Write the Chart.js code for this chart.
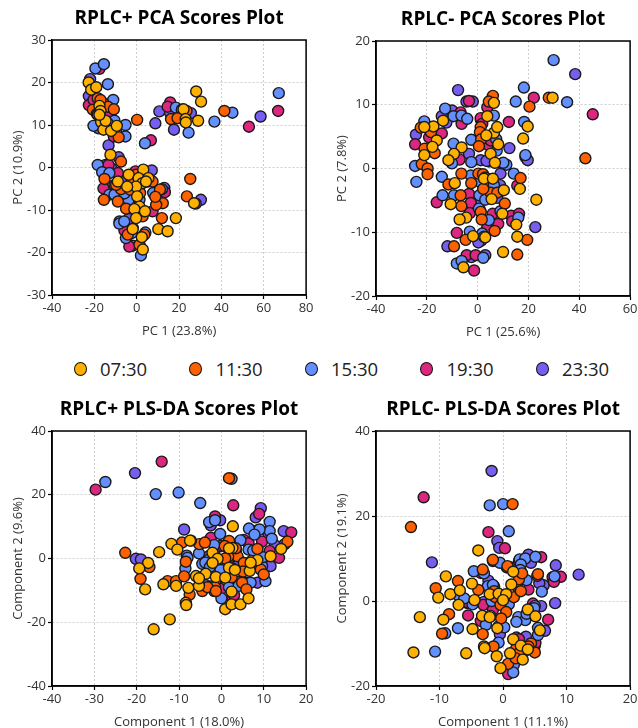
<!DOCTYPE html>
<html>
<head>
<meta charset="utf-8">
<script src="https://cdn.jsdelivr.net/npm/chart.js@4.4.0/dist/chart.umd.min.js"></script>
<style>
html, body { margin: 0; padding: 0; background: #fff; width: 638px; height: 728px; overflow: hidden; position: relative; font-family: "Open Sans", sans-serif; }
canvas { position: absolute; }
#legend { position: absolute; left: 73.5px; top: 357px; height: 24px; display: flex; align-items: center; }
#legend .item { width: 115.5px; display: flex; align-items: center; }
#legend .dot { width: 13px; height: 14px; border: 1.6px solid #111; border-radius: 50%; box-sizing: border-box; margin-right: 13.5px; }
#legend .lbl { font-size: 18.5px; color: #222; line-height: 24px; }
</style>
</head>
<body>
<canvas id="pcaPos"></canvas>
<canvas id="pcaNeg"></canvas>
<canvas id="plsPos"></canvas>
<canvas id="plsNeg"></canvas>
<div id="legend"></div>
<script>
// groups (sampling times) and their colours
const timePoints = ['07:30', '11:30', '15:30', '19:30', '23:30'];
const groupColors = ['#FFB000', '#FE6100', '#648FFF', '#DC267F', '#785EF0'];

// RPLC+ PCA scores  [PC1, PC2]
const pcaPos0730 = [[-22.7,20.0],[-21.5,18.3],[-19.1,18.9],[-17.6,14.5],[-17.1,13.3],[-16.8,10.7],[-15.7,8.9],[-14.7,11.0],[-12.1,8.6],[-12.4,3.0],[-9.4,9.8],[-17.6,12.4],[28.1,17.9],[30.4,15.5],[22.1,13.7],[23.1,11.4],[29.0,11.0],[23.2,10.6],[3.1,-0.5],[-3.8,-1.7],[0.9,-2.5],[5.5,-2.5],[2.7,-3.7],[-0.3,-4.5],[-8.9,-3.3],[-4.5,-4.5],[4.4,-3.3],[0.2,-6.8],[1.3,-9.2],[-1.1,-9.8],[3.9,-10.3],[-0.3,-11.9],[10.2,-14.5],[14.6,-15.0],[18.5,-11.9],[27.1,-8.4],[-1.9,-14.5],[2.4,-16.4],[2.9,-19.3]];
const pcaPos1130 = [[-18.4,16.3],[-20.7,13.6],[-18.8,12.6],[-15.7,15.1],[-13.6,14.3],[-10.8,13.7],[-8.5,7.1],[-7.4,1.4],[0.2,11.2],[-17.1,15.9],[-18.4,12.4],[41.4,13.3],[16.2,11.4],[19.3,11.6],[23.5,13.3],[-15.2,-2.7],[-15.5,-7.6],[-8.9,-8.0],[-5.0,-9.7],[-7.4,-5.1],[-9.7,-4.1],[-2.2,-3.3],[-0.3,-1.7],[7.5,-3.3],[11.0,-5.2],[12.3,-8.4],[9.2,-8.8],[11.9,-11.9],[25.3,-2.7],[23.7,-6.8],[2.8,-11.5],[3.6,-15.8],[-4.2,-15.8],[-3.1,-5.2],[1.6,-6.0],[2.5,-2.0],[8.8,-6.9],[1.3,-18.2]];
const pcaPos1530 = [[-19.5,23.3],[-15.5,24.3],[-13.6,19.6],[-11.1,15.9],[-20.4,9.8],[-10.5,11.0],[-5.3,10.0],[-5.3,7.3],[3.9,5.7],[-13.6,10.4],[18.5,14.1],[24.5,8.2],[36.7,10.8],[45.2,12.9],[67.1,17.5],[21.3,13.6],[-18.4,0.6],[-16.3,-1.1],[-12.9,-6.4],[-10.5,-6.4],[-3.8,-7.6],[1.3,-7.6],[7.8,-6.0],[11.9,-5.1],[-8.2,-13.2],[-5.9,-12.7],[-5.1,-16.6],[2.0,-20.7],[-2.2,-15.4],[5.2,-3.3],[-12.9,-1.3],[-5.8,-6.1],[4.1,-15.3]];
const pcaPos1930 = [[-17.6,23.2],[-22.6,14.7],[-20.4,15.9],[-16.0,12.0],[-10.8,7.3],[6.7,6.4],[-13.2,12.4],[-9.7,8.5],[15.8,15.3],[14.6,14.3],[53.0,9.6],[66.8,13.3],[20.1,13.2],[-13.3,0.6],[-15.7,-4.9],[-8.9,-1.3],[-0.6,-0.9],[7.5,-10.3],[13.3,-5.8],[-3.5,-18.6],[-5.8,-14.8],[1.3,-4.5],[-10.5,-4.1]];
const pcaPos2330 = [[-22.0,20.8],[-22.6,16.8],[-13.3,5.2],[-12.5,12.8],[-18.0,9.2],[10.7,13.2],[8.8,10.4],[17.6,8.9],[58.5,12.0],[25.6,12.8],[15.8,12.8],[-8.5,2.4],[-14.7,0.6],[7.1,-0.7],[30.3,-7.6],[27.9,-8.5],[13.0,-4.8],[-1.9,-14.2],[-1.9,-18.4],[-3.8,-12.1],[-7.4,-3.3],[-12.0,-0.2],[-8.1,-12.7]];

// RPLC- PCA scores
const pcaNeg0730 = [[29.5,11.1],[6.4,10.3],[3.8,8.2],[6.4,5.6],[7.7,6.5],[8.1,3.8],[5.1,2.3],[6.8,0.9],[3.4,5.2],[17.9,4.7],[19.7,6.6],[-13.6,7.5],[-17.4,6.6],[-21.0,6.5],[-16.1,4.4],[-17.8,3.4],[-21.0,2.1],[-6.3,3.3],[-9.3,2.3],[-11.5,1.3],[-9.0,-2.3],[-10.6,-5.6],[-4.5,-7.7],[-7.1,-8.0],[2.5,-1.6],[6.0,-1.6],[5.5,-4.8],[10.3,-3.4],[16.6,-3.2],[23.1,-4.9],[9.7,-7.1],[15.2,-8.8],[15.6,-10.7],[10.0,-13.1],[-1.8,-10.6],[3.0,-10.8],[-5.6,-15.5]];
const pcaNeg1130 = [[6.0,11.4],[4.4,10.5],[20.4,9.7],[28.0,11.1],[42.4,1.6],[-22.4,6.4],[-18.4,5.7],[-16.9,2.4],[-22.0,0.7],[-19.7,0.0],[-19.7,-0.9],[-6.4,-0.8],[-2.5,-2.3],[0.3,-0.8],[2.1,-0.9],[1.2,6.5],[0.9,5.7],[1.4,4.6],[0.5,3.5],[5.1,-3.8],[7.7,-3.8],[16.9,-1.5],[10.7,-5.5],[-6.4,-5.9],[-6.7,-4.2],[1.2,-6.8],[1.6,-8.0],[6.7,-9.8],[-4.7,-11.2],[-9.3,-12.2],[15.6,-13.5],[19.5,-11.2],[-11.5,-2.5],[-20.9,3.1],[2.2,-3.2],[3.0,-1.4]];
const pcaNeg1530 = [[29.9,17.0],[15.0,10.5],[18.2,12.7],[35.2,10.4],[-12.8,9.4],[-9.5,8.2],[-6.4,8.3],[-4.1,7.8],[-21.0,7.4],[-24.6,0.4],[-24.1,-2.1],[-9.5,3.9],[-10.1,0.8],[-2.5,4.5],[-2.5,1.0],[-2.7,-1.1],[0.9,-2.1],[6.4,8.3],[7.3,4.6],[7.5,2.8],[9.7,0.8],[11.3,0.6],[14.2,-0.8],[18.8,2.1],[-14.1,-1.3],[-13.8,-4.2],[-9.3,-4.2],[5.1,-2.1],[6.4,-2.6],[4.4,-8.1],[0.5,-6.3],[9.0,-6.7],[16.0,-7.7],[1.8,-10.2],[2.5,-10.7],[-8.2,-14.9],[-6.3,-14.5],[2.2,-14.0],[-3.1,-9.9],[18.3,7.3],[0.7,-4.2],[3.0,-4.9],[10.1,0.9]];
const pcaNeg1930 = [[45.3,8.5],[22.1,11.1],[12.3,7.3],[-3.4,10.6],[-6.7,8.8],[-6.3,7.0],[-24.6,3.8],[-19.1,4.9],[-14.1,5.5],[-7.1,1.4],[1.2,7.9],[1.8,7.0],[3.8,9.6],[4.1,3.7],[5.1,4.4],[-16.1,-5.3],[-3.4,-4.0],[-2.7,-5.4],[-3.1,-7.0],[4.1,-1.7],[8.1,-8.7],[13.2,-7.4],[13.6,-8.3],[15.6,-2.7],[-8.2,-10.1],[3.8,-9.3],[-4.3,-13.6],[-1.4,-16.0],[-0.8,-13.6],[16.3,-7.1],[5.9,-7.1]];
const pcaNeg2330 = [[-7.7,12.3],[38.4,14.8],[-4.4,10.5],[-1.9,10.5],[-10.1,9.1],[-14.1,8.2],[-12.3,7.2],[-24.3,5.3],[-3.4,2.3],[1.2,1.3],[4.4,1.1],[12.5,3.2],[18.8,1.8],[19.7,1.3],[9.0,-0.8],[8.8,-2.6],[7.7,-4.6],[-0.4,-5.5],[0.8,-6.4],[22.7,-9.2],[-11.9,-12.2],[-2.5,-13.9],[1.4,-11.3],[0.3,-11.6],[3.5,1.2],[1.3,7.6],[3.0,-13.6]];

// RPLC+ PLS-DA scores  [Component 1, Component 2]
const plsPos0730 = [[-11.8,4.6],[-10.4,2.8],[-7.4,5.6],[-14.7,2.0],[-17.3,-1.4],[-19.4,-3.1],[-18.0,-9.7],[-13.7,-8.1],[-10.7,-8.6],[-8.4,-13.9],[-8.3,-14.6],[-7.8,-9.2],[-12.2,-19.1],[-16.0,-22.2],[-6.0,-5.5],[-5.3,-8.6],[-3.7,-4.8],[-2.1,1.8],[-0.9,-0.1],[-1.3,-5.8],[-2.1,-1.4],[0.9,-15.9],[2.4,-14.4],[4.5,-14.4],[6.4,-12.5],[1.8,-2.9],[3.2,-3.6],[2.6,3.3],[2.7,10.1],[7.1,-0.8],[6.7,-3.9],[8.5,-0.5],[11.6,0.7],[14.1,3.0],[0.9,-6.0],[-5.3,-6.2],[6.9,-1.3],[2.4,-10.4],[1.8,3.2]];
const plsPos1130 = [[-22.7,1.8],[-19.1,-6.4],[-17.0,-2.7],[-12.7,-7.1],[-10.7,-7.1],[-9.3,5.0],[-8.8,-5.6],[-7.5,-11.3],[-5.2,4.5],[-3.9,5.0],[-4.5,-10.2],[-1.7,-10.2],[-1.5,-9.0],[1.8,25.2],[1.8,5.5],[0.8,3.9],[2.2,0.5],[3.8,0.7],[5.3,-1.4],[4.9,-7.6],[5.9,-9.7],[8.5,3.0],[9.3,-3.5],[10.0,-5.0],[15.6,5.3],[-3.3,-9.0],[-7.2,5.6],[3.4,3.2],[1.6,0.6],[-8.4,-1.0],[-1.3,-10.2],[2.4,-5.9],[5.1,-4.1],[2.6,-3.1],[0.9,0.0]];
const plsPos1530 = [[-27.4,24.0],[-15.5,20.2],[-10.1,20.7],[-5.0,17.4],[2.4,25.0],[-2.9,11.4],[-1.5,12.0],[-0.3,7.7],[6.5,9.4],[11.4,11.5],[11.4,8.6],[11.9,6.2],[9.0,9.1],[4.5,5.7],[6.4,2.8],[7.8,7.5],[2.2,2.5],[-5.3,1.6],[-8.0,0.2],[-8.5,-3.1],[-4.5,-1.7],[-2.9,-0.3],[1.4,0.2],[1.0,-6.6],[1.8,-9.0],[4.1,-8.6],[6.9,-7.6],[10.4,-7.1],[9.6,-2.4],[0.0,-12.5],[-1.7,4.2],[-3.8,-1.3],[-2.7,-2.6],[-0.2,-3.6],[9.8,0.4],[5.6,-1.5],[7.5,2.5]];
const plsPos1930 = [[-29.7,21.6],[-14.1,30.4],[2.8,16.7],[-1.5,13.2],[8.9,14.0],[16.5,8.2],[13.6,0.2],[8.5,8.8],[-2.5,6.5],[2.6,-12.0],[7.0,-2.6],[1.0,-7.1],[-1.7,1.8],[11.4,2.3],[-0.5,-8.3],[5.3,5.8],[9.6,5.3],[6.1,-7.6],[6.4,4.8],[3.0,-11.5],[4.2,-7.3],[0.2,-9.4]];
const plsPos2330 = [[-20.4,26.8],[-20.2,-0.1],[-19.0,-0.3],[-8.8,9.1],[-8.2,0.9],[-2.5,10.4],[-0.3,12.0],[9.3,15.8],[8.1,12.9],[11.2,8.6],[14.9,4.4],[14.7,8.6],[4.4,-0.8],[11.6,-2.4],[8.5,-7.6],[-3.8,-8.3],[3.4,2.3],[-0.2,3.9],[-2.9,0.8],[0.9,-2.4],[11.1,7.9],[12.6,4.2],[4.2,-1.3],[-2.5,-8.8]];

// RPLC- PLS-DA scores
const plsNeg0730 = [[-3.9,11.9],[-9.0,5.8],[-8.3,1.6],[-10.2,0.8],[-4.9,4.1],[-6.8,2.5],[-7.0,-0.9],[-4.5,0.2],[-2.1,1.6],[-0.7,1.7],[0.5,1.6],[1.6,6.9],[1.3,3.9],[0.0,0.2],[-9.4,-4.4],[-13.1,-3.8],[-14.1,-12.1],[-5.8,-12.3],[-4.8,-6.6],[-3.0,-10.7],[-2.0,-3.5],[-0.9,-6.4],[-1.0,-13.0],[-0.4,-15.8],[3.9,-2.0],[5.1,-3.6],[5.8,-6.9],[1.6,-9.0],[1.1,-12.3],[2.8,-10.5],[3.9,-11.4],[3.1,-13.8],[-3.3,-3.5],[-2.9,-11.1],[-2.1,-3.8]];
const plsNeg1130 = [[-14.5,17.4],[1.5,22.8],[-1.6,9.7],[-3.2,7.4],[0.7,8.2],[2.2,3.5],[2.5,5.1],[5.5,6.3],[-7.1,4.7],[-10.6,3.0],[-8.5,-3.1],[-9.6,-7.7],[-3.9,2.6],[-3.2,-7.8],[-1.5,-10.7],[-1.2,0.9],[-0.4,-0.9],[0.5,-2.6],[0.8,-14.8],[1.7,0.9],[2.1,-11.1],[2.6,-12.1],[4.4,-10.0],[5.0,-12.1],[2.8,2.3],[-1.4,2.3],[3.0,6.5],[-0.3,-4.1],[2.0,-13.5],[4.0,-10.7]];
const plsNeg1530 = [[-2.1,22.5],[0.0,22.8],[0.9,16.4],[-0.5,9.0],[2.6,9.8],[3.5,10.0],[5.1,10.4],[2.8,8.6],[2.7,7.3],[-4.6,7.0],[-3.0,6.5],[6.1,2.2],[8.1,5.8],[-7.1,1.4],[-4.8,-0.8],[-2.4,3.5],[-1.8,0.0],[0.9,-0.8],[2.4,-3.8],[3.5,-4.5],[3.7,-3.0],[5.0,-1.2],[5.5,-6.3],[5.5,-8.0],[-2.7,-5.6],[-0.7,-6.0],[-0.7,-9.8],[-7.1,-6.4],[-9.1,-7.6],[-10.7,-11.9],[1.7,-15.0],[1.6,-16.8],[3.3,-11.9],[-1.6,3.8],[3.7,4.9],[0.2,-6.2],[2.1,-4.9],[4.9,-1.7],[-6.1,0.6]];
const plsNeg1930 = [[-12.5,24.4],[-2.3,16.2],[0.3,12.4],[6.0,10.3],[7.8,5.6],[9.1,5.7],[8.0,4.5],[5.4,5.9],[4.0,2.7],[-3.5,6.6],[-1.6,9.4],[0.6,7.9],[-3.1,-0.9],[-5.5,-3.4],[-3.5,-4.7],[5.1,-9.9],[2.5,-9.0],[7.1,-4.4],[4.7,-0.6],[0.8,-17.2],[-5.7,-0.2],[-1.6,-2.1]];
const plsNeg2330 = [[-1.8,30.6],[-11.2,9.1],[-0.9,14.1],[-0.6,12.5],[11.9,6.2],[8.3,8.4],[8.2,-0.5],[6.4,3.7],[6.0,-1.2],[4.4,9.0],[4.0,10.9],[1.2,7.9],[-3.0,-0.2],[-0.5,-7.8],[2.1,-8.6],[3.6,-8.4],[6.6,-7.0],[-2.3,4.8],[-5.6,-0.5],[5.0,-10.5],[2.5,9.3],[5.7,4.2],[-1.4,3.4]];

// axis ranges [min, max, step]
const pcaPosX = [-40, 80, 20], pcaPosY = [-30, 30, 10];
const pcaNegX = [-40, 60, 20], pcaNegY = [-20, 20, 10];
const plsPosX = [-40, 20, 10], plsPosY = [-40, 40, 20];
const plsNegX = [-20, 20, 10], plsNegY = [-20, 40, 20];

const FONT = '"Open Sans", sans-serif';
const PLOT = 255, Y_AXIS_W = 52, TITLE_H = 40, X_AXIS_H = 45, RIGHT_PAD = 6;

// box round the plot area (left/bottom come from the axis borders)
const frameBox = {
    id: 'frameBox',
    afterDatasetsDraw(chart) {
        const a = chart.chartArea, c = chart.ctx;
        c.save();
        c.strokeStyle = '#000';
        c.lineWidth = 1.5;
        c.strokeRect(a.left, a.top, a.right - a.left, a.bottom - a.top);
        c.restore();
    }
};

function scoresPlot(id, plotLeft, plotTop, title, xTitle, yTitle, xr, yr, series) {
    const cv = document.getElementById(id);
    const w = Y_AXIS_W + PLOT + RIGHT_PAD, h = TITLE_H + PLOT + X_AXIS_H;
    cv.width = w; cv.height = h;
    cv.style.width = w + 'px'; cv.style.height = h + 'px';
    cv.style.left = (plotLeft - Y_AXIS_W) + 'px';
    cv.style.top = (plotTop - TITLE_H) + 'px';

    const axis = (r, text, isX) => ({
        type: 'linear',
        min: r[0], max: r[1],
        ticks: { stepSize: r[2], color: '#333', font: { family: FONT, size: 13 }, padding: isX ? 1 : 2, maxRotation: 0 },
        grid: { color: '#cdcdcd', lineWidth: 1, tickColor: '#000', tickLength: 4, tickWidth: 1.2, tickBorderDash: [] },
        border: { display: true, color: '#000', width: 1.5, dash: [2, 2] },
        title: { display: true, text: text, color: '#333', font: { family: FONT, size: 13, lineHeight: 1.2 },
                 padding: isX ? { top: 0, bottom: 0.5 } : { top: 10.2, bottom: 0 } },
        afterFit: s => {
            if (isX) { s.height = X_AXIS_H; s.paddingLeft = 0; s.paddingRight = 0; }
            else { s.width = Y_AXIS_W; s.paddingTop = 0; s.paddingBottom = 0; }
        }
    });

    return new Chart(cv, {
        type: 'scatter',
        data: {
            datasets: timePoints.map((t, i) => ({
                label: t,
                data: series[i],
                backgroundColor: groupColors[i],
                borderColor: '#1a1a1a',
                borderWidth: 1.4,
                pointRadius: 5.5,
                pointHoverRadius: 5.5
            }))
        },
        options: {
            responsive: false,
            animation: false,
            layout: { padding: { left: 0, right: RIGHT_PAD, top: 0, bottom: 0 } },
            plugins: {
                legend: { display: false },
                tooltip: { enabled: false },
                title: {
                    display: true, text: title, fullSize: false, color: '#000',
                    font: { family: FONT, size: 19, weight: 'bold', lineHeight: 1.2 },
                    padding: { top: 7, bottom: 10.2 }
                }
            },
            scales: { x: axis(xr, xTitle, true), y: axis(yr, yTitle, false) }
        },
        plugins: [frameBox]
    });
}

scoresPlot('pcaPos', 52, 40, 'RPLC+ PCA Scores Plot', 'PC 1 (23.8%)', 'PC 2 (10.9%)', pcaPosX, pcaPosY,
    [pcaPos0730, pcaPos1130, pcaPos1530, pcaPos1930, pcaPos2330]);
scoresPlot('pcaNeg', 376, 41, 'RPLC- PCA Scores Plot', 'PC 1 (25.6%)', 'PC 2 (7.8%)', pcaNegX, pcaNegY,
    [pcaNeg0730, pcaNeg1130, pcaNeg1530, pcaNeg1930, pcaNeg2330]);
scoresPlot('plsPos', 52, 431, 'RPLC+ PLS-DA Scores Plot', 'Component 1 (18.0%)', 'Component 2 (9.6%)', plsPosX, plsPosY,
    [plsPos0730, plsPos1130, plsPos1530, plsPos1930, plsPos2330]);
scoresPlot('plsNeg', 376, 431, 'RPLC- PLS-DA Scores Plot', 'Component 1 (11.1%)', 'Component 2 (19.1%)', plsNegX, plsNegY,
    [plsNeg0730, plsNeg1130, plsNeg1530, plsNeg1930, plsNeg2330]);

// shared legend
const legendEl = document.getElementById('legend');
timePoints.forEach((t, i) => {
    const item = document.createElement('div');
    item.className = 'item';
    item.innerHTML = '<span class="dot" style="background:' + groupColors[i] + '"></span><span class="lbl">' + t + '</span>';
    legendEl.appendChild(item);
});
</script>
</body>
</html>
